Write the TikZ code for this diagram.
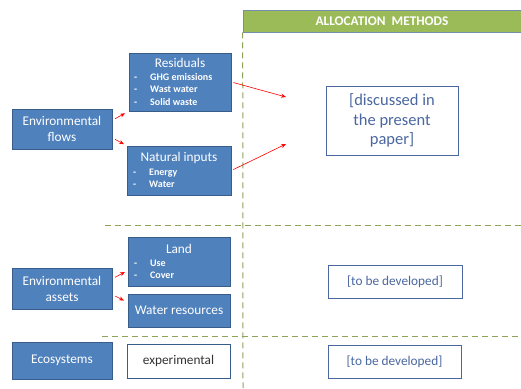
\documentclass[tikz,border=0pt]{standalone}
\usepackage{fontspec}
\setmainfont{Carlito}
\usetikzlibrary{arrows.meta}
\definecolor{boxblue}{HTML}{4F81BD}
\definecolor{boxedge}{HTML}{385D8A}
\definecolor{headgreen}{HTML}{9BBB59}
\definecolor{sepgreen}{HTML}{8FA25A}
\definecolor{noteblue}{HTML}{4A67A0}
\tikzset{
  bluebox/.style={draw=boxedge, fill=boxblue, text=white, line width=0.8pt, inner sep=0pt,
    align=center, font=\fontsize{13.3}{16}\selectfont},
  whitebox/.style={draw=boxedge, fill=white, text=black!80, line width=0.8pt, inner sep=0pt,
    align=center, font=\fontsize{13.3}{16}\selectfont},
  notebox/.style={draw=noteblue, fill=white, text=noteblue, line width=0.8pt, inner sep=0pt,
    align=center, font=\fontsize{13.3}{16}\selectfont},
  boxtitle/.style={text=white, inner sep=0pt, font=\fontsize{13.3}{16}\selectfont},
  listitem/.style={text=white, inner sep=0pt, anchor=west, font=\fontsize{10}{12}\selectfont\bfseries},
  redarrow/.style={draw=red, line width=0.6pt, -{Stealth[length=5pt,width=4pt]}},
  sepline/.style={draw=sepgreen, line width=1pt, dash pattern=on 6pt off 4pt}
}
\newcommand{\itemline}[1]{\makebox[16pt][l]{-}#1}
\begin{document}
\begin{tikzpicture}[x=1pt,y=-1pt]
\useasboundingbox (0,0) rectangle (521,388);

% header of the right column
\node[fill=headgreen, draw=boxedge!70, line width=0.6pt, minimum width=278pt, minimum height=22pt,
  inner sep=0pt, text=white, font=\fontsize{13.3}{16}\selectfont\bfseries] (head) at (382,21) {ALLOCATION\ \ METHODS};

% separators
\draw[sepline] (head.south west) -- (243,388);
\draw[sepline] (105,225) -- (521,225);
\draw[sepline] (102,336) -- (521,336);

% environmental flows
\node[bluebox, minimum width=100pt, minimum height=40pt] (flows) at (62,129) {Environmental\\flows};
\node[bluebox, minimum width=102pt, minimum height=58pt] (res) at (180,82) {};
\node[boxtitle] (restitle) at (180,63) {Residuals};
\node[listitem] (res1) at (134,77) {\itemline{GHG emissions}};
\node[listitem] (res2) at (134,89.5) {\itemline{Wast water}};
\node[listitem] (res3) at (134,102) {\itemline{Solid waste}};
\node[bluebox, minimum width=104pt, minimum height=49pt] (nat) at (179,170.5) {};
\node[boxtitle] (nattitle) at (179,158) {Natural inputs};
\node[listitem] (nat1) at (133,173) {\itemline{Energy}};
\node[listitem] (nat2) at (133,184.5) {\itemline{Water}};

% environmental assets
\node[bluebox, minimum width=100pt, minimum height=41pt] (assets) at (62,288.5) {Environmental\\assets};
\node[bluebox, minimum width=102pt, minimum height=49pt] (land) at (179,261.5) {};
\node[boxtitle] (landtitle) at (179,249) {Land};
\node[listitem] (land1) at (134,263) {\itemline{Use}};
\node[listitem] (land2) at (134,275) {\itemline{Cover}};
\node[bluebox, minimum width=102pt, minimum height=33pt] (water) at (179,310.5) {Water resources};

% ecosystems
\node[bluebox, minimum width=100pt, minimum height=37pt] (eco) at (62,360.5) {Ecosystems};
\node[whitebox, minimum width=103pt, minimum height=34pt] (expt) at (178.5,361) {experimental};

% allocation methods
\node[notebox, minimum width=132pt, minimum height=69pt, font=\fontsize{16.5}{19.5}\selectfont] (disc) at (392,120.5) {[discussed in\\the present\\paper]};
\node[notebox, minimum width=134pt, minimum height=33pt] (dev1) at (395,281.5) {[to be developed]};
\node[notebox, minimum width=133pt, minimum height=33pt] (dev2) at (394.5,361.5) {[to be developed]};

\coordinate (inA) at (286,97);
\coordinate (inB) at (286,144);

% arrows
\draw[redarrow, shorten <=3pt, shorten >=4pt] (flows.10) -- (res.south west);
\draw[redarrow, shorten <=3pt, shorten >=3pt] (flows.-10) -- (nat.north west);
\draw[redarrow, shorten <=2pt] (res.east) -- (inA);
\draw[redarrow, shorten <=2pt] (nat.east) -- (inB);
\draw[redarrow, shorten <=3pt, shorten >=3pt] (assets.11) -- (land.190);
\draw[redarrow, shorten <=3pt, shorten >=4pt] (assets.-7) -- (water.171);
\end{tikzpicture}
\end{document}
